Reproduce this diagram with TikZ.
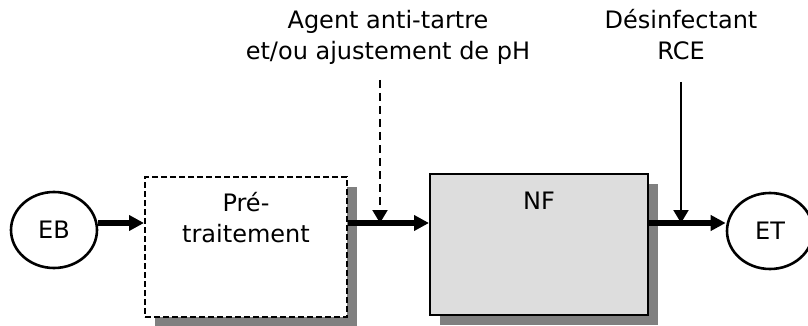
\documentclass[tikz,border=0pt]{standalone}
\usepackage{fontspec}
\setmainfont{DejaVu Sans}
\usetikzlibrary{arrows.meta,shapes.geometric,shadows}
\definecolor{shadowgray}{HTML}{808080}
\definecolor{nffill}{HTML}{DDDDDD}
\begin{document}
\begin{tikzpicture}[x=1pt,y=-1pt,
  every node/.style={font=\fontsize{24}{31}\selectfont, inner sep=0pt},
  term/.style={ellipse, draw, line width=2.6pt, minimum width=86pt, minimum height=76pt},
  procbox/.style={rectangle, draw, line width=2pt,
    drop shadow={shadow xshift=10pt, shadow yshift=-10pt, fill=shadowgray, opacity=1}},
  mainflow/.style={-{Triangle[length=15pt,width=15pt]}, line width=5.5pt},
  injflow/.style={-{Triangle[length=13pt,width=15pt]}, line width=2pt},
  lbl/.style={align=center, anchor=base}]
\useasboundingbox (0,0) rectangle (808,326);
\coordinate (lev) at (0,223);
% terminals
\node[term] (EB) at (54,230) {EB};
\node[term] (ET) at (770,231) {ET};
% process boxes
\node[procbox, dash pattern=on 6pt off 3pt, fill=white, minimum width=202pt, minimum height=140pt] (pre) at (246,247) {};
\node[lbl] (pretxt) at (246,242) {Pré-\\traitement};
\node[procbox, fill=nffill, minimum width=218pt, minimum height=141pt] (NF) at (539,244.5) {};
\node[lbl] (nftxt) at (539,209) {NF};
% injection points
\coordinate (inj1) at (380,223);
\coordinate (inj2) at (681,223);
\coordinate (src1) at (380,80);
\coordinate (src2) at (681,82);
% labels
\node[lbl] (lab1) at (388,60) {Agent anti-tartre\\et/ou ajustement de pH};
\node[lbl] (lab2) at (681,60) {Désinfectant\\RCE};
% flows
\draw[mainflow] (EB.east |- lev) -- (pre.west |- lev);
\draw[mainflow] (pre.east |- lev) -- (NF.west |- lev);
\draw[mainflow] (NF.east |- lev) -- (ET.west |- lev);
\draw[injflow, dash pattern=on 8pt off 5pt] (src1) -- (inj1);
\draw[injflow] (src2) -- (inj2);
\end{tikzpicture}
\end{document}
